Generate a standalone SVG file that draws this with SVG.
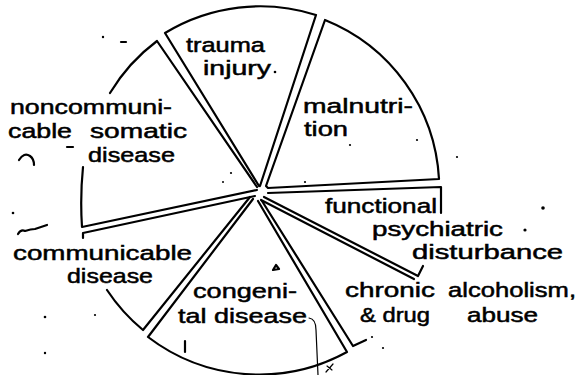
<svg xmlns="http://www.w3.org/2000/svg" width="577" height="375" viewBox="0 0 577 375">
<style>
.edge{fill:none;stroke:#000;stroke-width:2.2;stroke-linecap:round;stroke-linejoin:round}
.thin{fill:none;stroke:#000;stroke-width:1.2;stroke-linecap:round}
.lbl{font-family:"Liberation Sans",Arial,sans-serif;font-size:20.5px;fill:#000;stroke:#000;stroke-width:0.5}
.dot{fill:#000}
</style>
<rect width="577" height="375" fill="#fff"/>
<g id="trauma">
<path class="edge" d="M259,186 L165,33 A183,183 0 0 1 316,15 L260,186"/>
<text class="lbl" x="186" y="52" textLength="79" lengthAdjust="spacingAndGlyphs">trauma</text>
<text class="lbl" x="203" y="75" textLength="68" lengthAdjust="spacingAndGlyphs">injury</text>
</g>
<g id="malnutrition">
<path class="edge" d="M266,186 L325,20 A182,182 0 0 1 439,179 L268,188 Z"/>
<text class="lbl" x="303" y="113" textLength="110" lengthAdjust="spacingAndGlyphs">malnutri-</text>
<text class="lbl" x="304" y="136" textLength="44" lengthAdjust="spacingAndGlyphs">tion</text>
</g>
<g id="functional">
<path class="edge" d="M268,193 L441,187 L441,213"/>
<path class="edge" d="M264,197 L418,276 L423,266"/>
<text class="lbl" x="325" y="213" textLength="112" lengthAdjust="spacingAndGlyphs">functional</text>
<text class="lbl" x="372" y="236" textLength="131" lengthAdjust="spacingAndGlyphs">psychiatric</text>
<text class="lbl" x="412" y="259" textLength="151" lengthAdjust="spacingAndGlyphs">disturbance</text>
</g>
<g id="chronic">
<path class="edge" d="M261,200 L414,279"/>
<path class="edge" d="M262,201 L353,346 L366,340"/>
<text class="lbl" x="345" y="297" textLength="90" lengthAdjust="spacingAndGlyphs">chronic</text>
<text class="lbl" x="448" y="297" textLength="128" lengthAdjust="spacingAndGlyphs">alcoholism,</text>
<text class="lbl" x="360" y="322" textLength="70" lengthAdjust="spacingAndGlyphs">&amp; drug</text>
<text class="lbl" x="467" y="322" textLength="71" lengthAdjust="spacingAndGlyphs">abuse</text>
</g>
<g id="congenital">
<path class="edge" d="M258,201 L347,352 A183,183 0 0 1 148,337 L253,199"/>
<text class="lbl" x="193" y="298" textLength="104" lengthAdjust="spacingAndGlyphs">congeni-</text>
<text class="lbl" x="178" y="323" textLength="129" lengthAdjust="spacingAndGlyphs">tal disease</text>
</g>
<g id="communicable">
<path class="edge" d="M107,290 A182,182 0 0 0 143,330 L250,197"/>
<path class="edge" d="M83,238 L83,233 L255,196"/>
<text class="lbl" x="13" y="260" textLength="179" lengthAdjust="spacingAndGlyphs">communicable</text>
<text class="lbl" x="67" y="283" textLength="86" lengthAdjust="spacingAndGlyphs">disease</text>
</g>
<g id="noncommunicable">
<path class="edge" d="M110,93 A182,182 0 0 1 157,41 L257,187"/>
<path class="edge" d="M83,167 Q80,197 82,227 L257,190"/>
<text class="lbl" x="10" y="114" textLength="162" lengthAdjust="spacingAndGlyphs">noncommuni-</text>
<text class="lbl" x="8" y="138" textLength="64" lengthAdjust="spacingAndGlyphs">cable</text>
<text class="lbl" x="90" y="138" textLength="97" lengthAdjust="spacingAndGlyphs">somatic</text>
<text class="lbl" x="88" y="162" textLength="87" lengthAdjust="spacingAndGlyphs">disease</text>
</g>
<g id="specks">
<circle class="dot" cx="103" cy="37" r="1.2"/>
<circle class="dot" cx="13" cy="213" r="1.3"/>
<circle class="dot" cx="45" cy="317" r="1.3"/>
<circle class="dot" cx="95" cy="315" r="1.1"/>
<circle class="dot" cx="45" cy="353" r="1.2"/>
<circle class="dot" cx="275" cy="72" r="1.3"/>
<circle class="dot" cx="231" cy="173" r="1.1"/>
<circle class="dot" cx="223" cy="182" r="1"/>
<circle class="dot" cx="305" cy="182" r="1.1"/>
<circle class="dot" cx="350" cy="145" r="1.1"/>
<circle class="dot" cx="417" cy="140" r="1.1"/>
<circle class="dot" cx="457" cy="157" r="1.1"/>
<circle class="dot" cx="543" cy="208" r="1.8"/>
<circle class="dot" cx="525" cy="230" r="1.6"/>
<circle class="dot" cx="372" cy="337" r="1.1"/>
<circle class="dot" cx="383" cy="348" r="1.1"/>
<path class="edge" d="M121,42 L126,42"/>
<path class="edge" d="M67,147 L73,147"/>
<path class="edge" d="M19,160 Q24,152 30,156 Q34,159 34,165" stroke-width="3.2"/>
<path class="edge" d="M18,234 Q21,229 25,231 Q31,229 35,229 L47,225" stroke-width="1.6"/>
<path class="edge" d="M273,270 L276,265 L279,269 Z" stroke-width="1.5"/>
<path class="edge" d="M185,341 L185,352" stroke-width="2.6"/>
<path class="thin" d="M309,318 Q316,319 316,330 L318,375"/>
<path class="thin" d="M326,372 L333,364 M327,366 L332,370"/>
</g>
</svg>
